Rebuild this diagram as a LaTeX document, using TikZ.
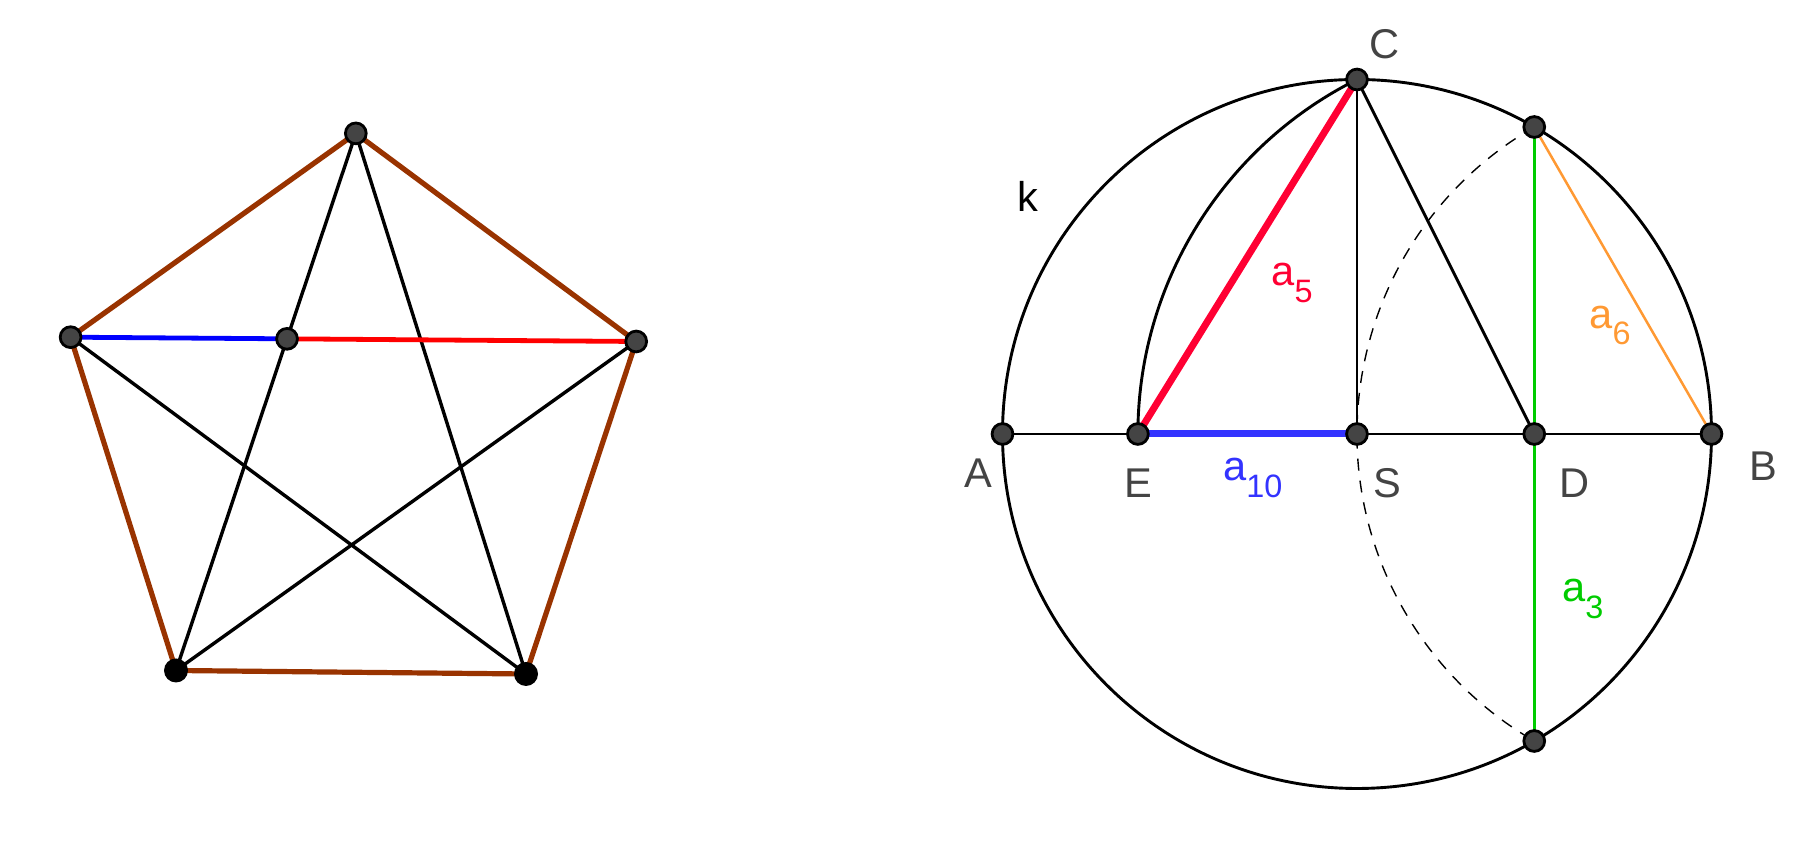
\documentclass[tikz,border=0pt]{standalone}
\usepackage{fontspec}
\setmainfont{Liberation Sans}
\usetikzlibrary{calc}
\definecolor{brn}{HTML}{993300}
\definecolor{ptfill}{HTML}{444444}
\definecolor{labgray}{HTML}{444444}
\definecolor{redA}{HTML}{FF0033}
\definecolor{blueA}{HTML}{3333FF}
\definecolor{orangeA}{HTML}{FF9933}
\definecolor{greenA}{HTML}{00CC00}
\newcommand\gsub[1]{\raisebox{-8.3pt}{\fontsize{16.2}{18}\selectfont #1}}
\tikzset{
  gpt/.style={circle,draw=black,line width=1.4pt,fill=ptfill,inner sep=0pt,minimum size=10.4pt},
  bpt/.style={circle,fill=black,inner sep=0pt,minimum size=12pt},
  lab/.style={inner sep=0pt,text=labgray,font=\fontsize{20.8}{24}\selectfont},
  sublab/.style={inner sep=0pt,anchor=base west,font=\fontsize{20.8}{24}\selectfont},
  pedge/.style={draw=brn,line width=2.6pt},
  pdiag/.style={draw=black,line width=1.7pt},
  thin/.style={draw=black,line width=1.45pt},
}
\begin{document}
\begin{tikzpicture}[x=0.5pt,y=0.5pt]
\useasboundingbox (0,0) rectangle (1815,854);
% ---------- pentagon ----------
\coordinate (T) at (355.8,720.6);
\coordinate (L) at (70.6,516.8);
\coordinate (R) at (636.2,512.5);
\coordinate (P) at (176,183.5);
\coordinate (Q) at (526,180);
\coordinate (I) at (intersection of T--P and L--R);
\draw[pdiag] (T) -- (P);
\draw[pdiag] (T) -- (Q);
\draw[pdiag] (L) -- (Q);
\draw[pdiag] (R) -- (P);
\draw[pedge] (T) -- (L);
\draw[pedge] (T) -- (R);
\draw[pedge] (L) -- (P);
\draw[pedge] (R) -- (Q);
\draw[pedge] (P) -- (Q);
\draw[draw=blue,line width=2.4pt] (L) -- (I);
\draw[draw=red,line width=2.4pt] (I) -- (R);
\node[gpt] (nT) at (T) {};
\node[gpt] (nL) at (L) {};
\node[gpt] (nR) at (R) {};
\node[gpt] (nI) at (I) {};
\node[bpt] (nP) at (P) {};
\node[bpt] (nQ) at (Q) {};
% ---------- circle construction ----------
\coordinate (Sc) at (1357,420);
\coordinate (Ac) at (1002.5,420);
\coordinate (Bc) at (1711.5,420);
\coordinate (Cc) at (1357,774.5);
\coordinate (Dc) at (1534.25,420);
\coordinate (Ec) at (1137.9,420);
\coordinate (Fc) at (1534.25,727);
\coordinate (Gc) at (1534.25,113);
\draw[thin] (Sc) circle[radius=177.25pt];
\draw[thin] (Ac) -- (Bc);
\draw[thin] (Sc) -- (Cc);
\draw[thin] (Cc) -- (Dc);
\draw[thin] (Cc) arc[start angle=116.565,end angle=180,radius=198.18pt];
\draw[black,line width=0.7pt,dash pattern=on 6pt off 5pt] (Fc) arc[start angle=120,end angle=240,radius=177.25pt];
\draw[draw=redA,line width=3.5pt] (Ec) -- (Cc);
\draw[draw=blueA,line width=3.5pt] (Ec) -- (Sc);
\draw[draw=orangeA,line width=1.25pt] (Fc) -- (Bc);
\draw[draw=greenA,line width=1.25pt] (Fc) -- (Gc);
\node[gpt] (A) at (Ac) {};
\node[gpt] (E) at (Ec) {};
\node[gpt] (S) at (Sc) {};
\node[gpt] (D) at (Dc) {};
\node[gpt] (B) at (Bc) {};
\node[gpt] (C) at (Cc) {};
\node[gpt] (F) at (Fc) {};
\node[gpt] (G) at (Gc) {};
% ---------- labels ----------
\node[lab] (lC) at (1385,810) {C};
\node[lab,text=black] (lk) at (1027.7,657.3) {k};
\node[lab] (lA) at (978.8,380.5) {A};
\node[lab] (lE) at (1138,370.7) {E};
\node[lab] (lS) at (1387.2,370.7) {S};
\node[lab] (lD) at (1575,370.7) {D};
\node[lab] (lB) at (1763.3,387.3) {B};
\node[sublab,text=redA] (l5) at (1271,568) {a\gsub{5}};
\node[sublab,text=orangeA] (l6) at (1589,525.7) {a\gsub{6}};
\node[sublab,text=blueA] (l10) at (1222.7,373.3) {a\gsub{10}};
\node[sublab,text=greenA] (l3) at (1561.7,252.3) {a\gsub{3}};
\end{tikzpicture}
\end{document}
